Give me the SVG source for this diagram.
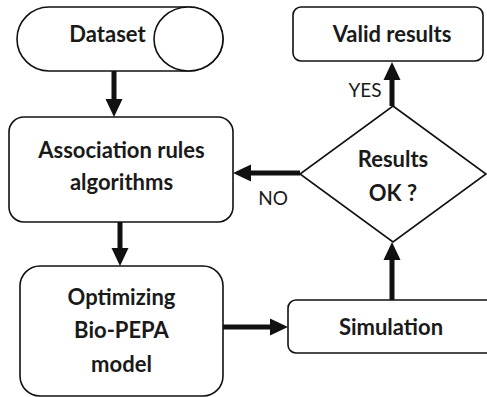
<svg xmlns="http://www.w3.org/2000/svg" width="487" height="397" viewBox="0 0 487 397">
<defs>
<marker id="ah" markerUnits="userSpaceOnUse" markerWidth="18" markerHeight="18" viewBox="0 0 18 18" refX="8" refY="9" orient="auto">
<path d="M0,0.5 L18,9 L0,17.5 Z" fill="#111"/>
</marker>
</defs>
<style>
.shape{fill:#fff;stroke:#111;stroke-width:1.6}
.t{font-family:Lato,"Open Sans",sans-serif;font-weight:bold;font-size:22px;fill:#1a1a1a;text-anchor:middle}
.lbl{font-family:Lato,"Open Sans",sans-serif;font-size:19px;fill:#1a1a1a;text-anchor:middle}
.conn{stroke:#111;stroke-width:5;fill:none;marker-end:url(#ah)}
</style>
<rect width="487" height="397" fill="#fff"/>
<g id="connectors">
<line class="conn" x1="114" y1="71" x2="114" y2="107"/>
<line class="conn" x1="120" y1="222" x2="120" y2="256"/>
<line class="conn" x1="223" y1="327" x2="278" y2="327"/>
<line class="conn" x1="392" y1="300" x2="392" y2="252"/>
<line class="conn" x1="392" y1="106" x2="392" y2="72"/>
<line class="conn" x1="300" y1="173" x2="243" y2="173"/>
<text class="lbl" x="365" y="97">YES</text>
<text class="lbl" x="273" y="205">NO</text>
</g>
<g id="dataset">
<path class="shape" d="M49,7 H188.5 A34.5,32 0 0 1 188.5,71 H49 A32,32 0 0 1 49,7 Z"/>
<ellipse class="shape" cx="188.5" cy="39" rx="34.5" ry="32"/>
<text class="t" x="107.5" y="42">Dataset</text>
</g>
<g id="valid">
<rect class="shape" x="293" y="7" width="190" height="54" rx="8"/>
<text class="t" x="392" y="42">Valid results</text>
</g>
<g id="assoc">
<rect class="shape" x="9" y="117" width="224" height="105" rx="15"/>
<text class="t" x="121.5" y="158">Association rules</text>
<text class="t" x="121.5" y="190">algorithms</text>
</g>
<g id="decision">
<polygon class="shape" points="393,106 486,174 393,242 300,174"/>
<text class="t" x="393" y="167">Results</text>
<text class="t" x="393" y="201">OK ?</text>
</g>
<g id="optimizing">
<rect class="shape" x="20" y="266" width="203" height="130" rx="20"/>
<text class="t" x="121.5" y="305">Optimizing</text>
<text class="t" x="121.5" y="338">Bio-PEPA</text>
<text class="t" x="121.5" y="372">model</text>
</g>
<g id="simulation">
<rect class="shape" x="288" y="300" width="210" height="53" rx="8"/>
<text class="t" x="391" y="335">Simulation</text>
</g>
</svg>
